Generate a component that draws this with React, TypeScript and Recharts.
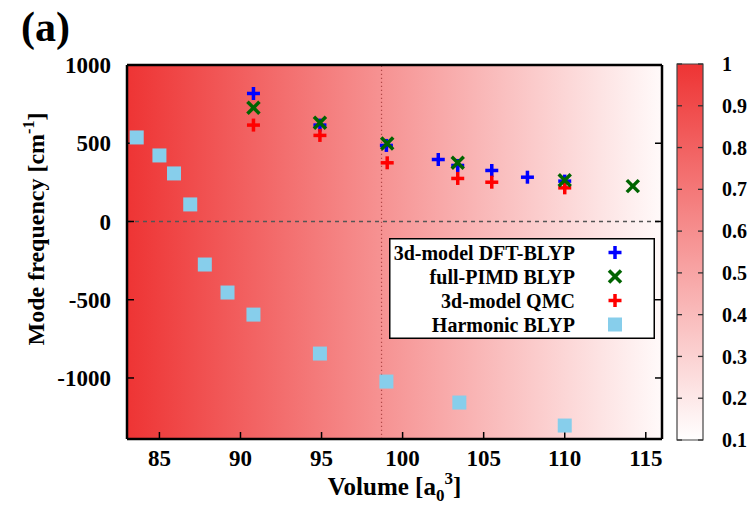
import {
  ScatterChart,
  ComposedChart,
  Scatter,
  XAxis,
  YAxis,
  ReferenceLine,
  ReferenceArea,
  Legend,
  Label,
} from 'recharts';

const SERIF = '"Liberation Serif", "Times New Roman", serif';

const volumeTicks = [85, 90, 95, 100, 105, 110, 115];
const freqTicks = [-1000, -500, 0, 500, 1000];
const colorTicks = [0.1, 0.2, 0.3, 0.4, 0.5, 0.6, 0.7, 0.8, 0.9, 1];

// 3d-model DFT-BLYP
const dftVolume = [90.8, 94.9, 99.0, 102.2, 103.4, 105.5, 107.7, 110.0];
const dftFreq = [818, 616, 486, 396, 358, 326, 283, 258];
// full-PIMD BLYP
const pimdVolume = [90.8, 94.9, 99.05, 103.4, 110.0, 114.2];
const pimdFreq = [727, 631, 499, 375, 264, 226];
// 3d-model QMC
const qmcVolume = [90.8, 94.9, 99.05, 103.4, 105.5, 110.0];
const qmcFreq = [616, 550, 375, 275, 251, 215];
// Harmonic BLYP
const harmVolume = [83.6, 85.0, 85.9, 86.9, 87.8, 89.2, 90.8, 94.9, 99.0, 103.5, 110.0];
const harmFreq = [537, 422, 307, 109, -275, -454, -595, -844, -1023, -1157, -1304];

const transitionVolume = 98.7;

const zip = (vs: number[], fs: number[]) => vs.map((v, i) => ({ v, f: fs[i] }));

const dftData = zip(dftVolume, dftFreq);
const pimdData = zip(pimdVolume, pimdFreq);
const qmcData = zip(qmcVolume, qmcFreq);
const harmData = zip(harmVolume, harmFreq);

const BLUE = '#0000ff';
const GREEN = '#006400';
const RED = '#ff0000';
const SKY = '#87ceeb';

function plusShape(color: string) {
  return (p: any) => (
    <g>
      <line x1={p.cx - 6.5} x2={p.cx + 6.5} y1={p.cy} y2={p.cy} stroke={color} strokeWidth={3.5} />
      <line x1={p.cx} x2={p.cx} y1={p.cy - 6.5} y2={p.cy + 6.5} stroke={color} strokeWidth={3.5} />
    </g>
  );
}

function crossShape(color: string) {
  return (p: any) => (
    <g>
      <line x1={p.cx - 6} x2={p.cx + 6} y1={p.cy - 6} y2={p.cy + 6} stroke={color} strokeWidth={3.5} />
      <line x1={p.cx - 6} x2={p.cx + 6} y1={p.cy + 6} y2={p.cy - 6} stroke={color} strokeWidth={3.5} />
    </g>
  );
}

function squareShape(color: string) {
  return (p: any) => <rect x={p.cx - 7} y={p.cy - 7} width={14} height={14} fill={color} />;
}

const legendRows = [
  { name: '3d-model DFT-BLYP', shape: plusShape(BLUE) },
  { name: 'full-PIMD BLYP', shape: crossShape(GREEN) },
  { name: '3d-model QMC', shape: plusShape(RED) },
  { name: 'Harmonic BLYP', shape: squareShape(SKY) },
];

function LegendBox() {
  return (
    <svg width={266} height={101} style={{ display: 'block' }}>
      <rect x={0.75} y={0.75} width={264.5} height={99.5} fill="#fff" stroke="#000" strokeWidth={1.5} />
      {legendRows.map((r, i) => (
        <g key={r.name}>
          <text
            x={186}
            y={14.5 + 24 * i}
            dy="0.35em"
            textAnchor="end"
            style={{ fontFamily: SERIF, fontWeight: 'bold', fontSize: 20 }}
            fill="#000"
          >
            {r.name}
          </text>
          {r.shape({ cx: 226, cy: 14.5 + 24 * i })}
        </g>
      ))}
    </svg>
  );
}

function XTitle(props: any) {
  const vb = props.viewBox;
  return (
    <text
      x={vb.x + vb.width / 2}
      y={vb.y + 56}
      textAnchor="middle"
      style={{ fontFamily: SERIF, fontWeight: 'bold', fontSize: 25 }}
      fill="#000"
    >
      Volume [a
      <tspan style={{ fontSize: 17 }} dy={6}>
        0
      </tspan>
      <tspan style={{ fontSize: 17 }} dy={-17}>
        3
      </tspan>
      <tspan dy={11}>]</tspan>
    </text>
  );
}

function YTitle(props: any) {
  const vb = props.viewBox;
  const x = vb.x + 17;
  const y = 229;
  return (
    <text
      transform={`translate(${x}, ${y}) rotate(-90)`}
      textAnchor="middle"
      style={{ fontFamily: SERIF, fontWeight: 'bold', fontSize: 24 }}
      fill="#000"
    >
      Mode frequency [cm
      <tspan style={{ fontSize: 16 }} dy={-10}>
        -1
      </tspan>
      <tspan dy={10}>]</tspan>
    </text>
  );
}

const tickFont = { fill: '#000', fontSize: 23, fontWeight: 'bold', fontFamily: SERIF };
const frame = { stroke: '#000', strokeWidth: 2.5 };
const tickMark = { stroke: '#000', strokeWidth: 1.5 };
const noLabel = () => '';

export default function App() {
  return (
    <div style={{ position: 'absolute', left: 0, top: 0, width: 748, height: 509, background: '#fff' }}>
      <div
        style={{
          position: 'absolute',
          left: 21,
          top: 3,
          fontFamily: SERIF,
          fontWeight: 'bold',
          fontSize: 42,
          lineHeight: '48px',
        }}
      >
        (a)
      </div>
      <div style={{ position: 'absolute', left: 0, top: 0 }}>
        <ScatterChart width={748} height={509} margin={{ top: 64, right: 85, bottom: 30, left: 27 }}>
          <defs>
            <linearGradient id="bgGrad" x1="0" y1="0" x2="1" y2="0">
              <stop offset="0%" stopColor="#ee3434" />
              <stop offset="100%" stopColor="#fffafa" />
            </linearGradient>
          </defs>
          <XAxis
            type="number"
            dataKey="v"
            domain={[83, 116]}
            ticks={volumeTicks}
            allowDataOverflow
            height={40}
            tickSize={-7}
            tickMargin={18}
            axisLine={frame}
            tickLine={tickMark}
            tick={tickFont}
            label={<Label content={XTitle} />}
          />
          <XAxis
            xAxisId="top"
            orientation="top"
            type="number"
            domain={[83, 116]}
            ticks={volumeTicks}
            allowDataOverflow
            height={1}
            tickSize={-7}
            axisLine={frame}
            tickLine={tickMark}
            tickFormatter={noLabel}
          />
          <YAxis
            type="number"
            dataKey="f"
            domain={[-1390, 1000]}
            ticks={freqTicks}
            allowDataOverflow
            width={100}
            tickSize={-7}
            tickMargin={23}
            axisLine={frame}
            tickLine={tickMark}
            tick={tickFont}
            label={<Label content={YTitle} />}
          />
          <YAxis
            yAxisId="right"
            orientation="right"
            type="number"
            domain={[-1390, 1000]}
            ticks={freqTicks}
            allowDataOverflow
            width={1}
            tickSize={-7}
            axisLine={frame}
            tickLine={tickMark}
            tickFormatter={noLabel}
          />
          <ReferenceArea
            x1={83}
            x2={116}
            y1={-1390}
            y2={1000}
            fill="url(#bgGrad)"
            fillOpacity={1}
            stroke="none"
          />
          <ReferenceLine y={0} stroke="#555" strokeWidth={1.5} strokeDasharray="4 4" />
          <ReferenceLine x={transitionVolume} stroke="#b04848" strokeWidth={1.2} strokeDasharray="1.2 2.8" />
          <Scatter name="Harmonic BLYP" data={harmData} shape={squareShape(SKY)} isAnimationActive={false} />
          <Scatter name="3d-model DFT-BLYP" data={dftData} shape={plusShape(BLUE)} isAnimationActive={false} />
          <Scatter name="3d-model QMC" data={qmcData} shape={plusShape(RED)} isAnimationActive={false} />
          <Scatter name="full-PIMD BLYP" data={pimdData} shape={crossShape(GREEN)} isAnimationActive={false} />
          <Legend
            layout="vertical"
            align="center"
            verticalAlign="middle"
            wrapperStyle={{ left: 389, top: 238, width: 266, height: 101 }}
            content={() => <LegendBox />}
          />
        </ScatterChart>
      </div>
      <div style={{ position: 'absolute', left: 660, top: 0 }}>
        <ComposedChart
          width={88}
          height={509}
          margin={{ top: 64, right: 44, bottom: 69, left: 16 }}
          data={[{ x: 0 }, { x: 1 }]}
        >
          <defs>
            <linearGradient id="cbGrad" x1="0" y1="1" x2="0" y2="0">
              <stop offset="0%" stopColor="#ffffff" />
              <stop offset="100%" stopColor="#ee3434" />
            </linearGradient>
          </defs>
          <XAxis type="number" dataKey="x" domain={[0, 1]} hide />
          <YAxis
            yAxisId="cb"
            orientation="right"
            type="number"
            domain={[0.1, 1]}
            ticks={colorTicks}
            allowDataOverflow
            width={1}
            tickSize={-5}
            tickMargin={24}
            axisLine={false}
            tickLine={{ stroke: '#333', strokeWidth: 1.3 }}
            tick={{ ...tickFont, fontSize: 20 }}
          />
          <YAxis
            yAxisId="cbLeft"
            orientation="left"
            type="number"
            domain={[0.1, 1]}
            ticks={colorTicks}
            allowDataOverflow
            width={1}
            tickSize={-5}
            axisLine={false}
            tickLine={{ stroke: '#333', strokeWidth: 1.3 }}
            tickFormatter={noLabel}
          />
          <ReferenceArea
            yAxisId="cb"
            x1={0}
            x2={1}
            y1={0.1}
            y2={1}
            fill="url(#cbGrad)"
            fillOpacity={1}
            stroke="#444"
            strokeWidth={1.2}
          />
        </ComposedChart>
      </div>
    </div>
  );
}
